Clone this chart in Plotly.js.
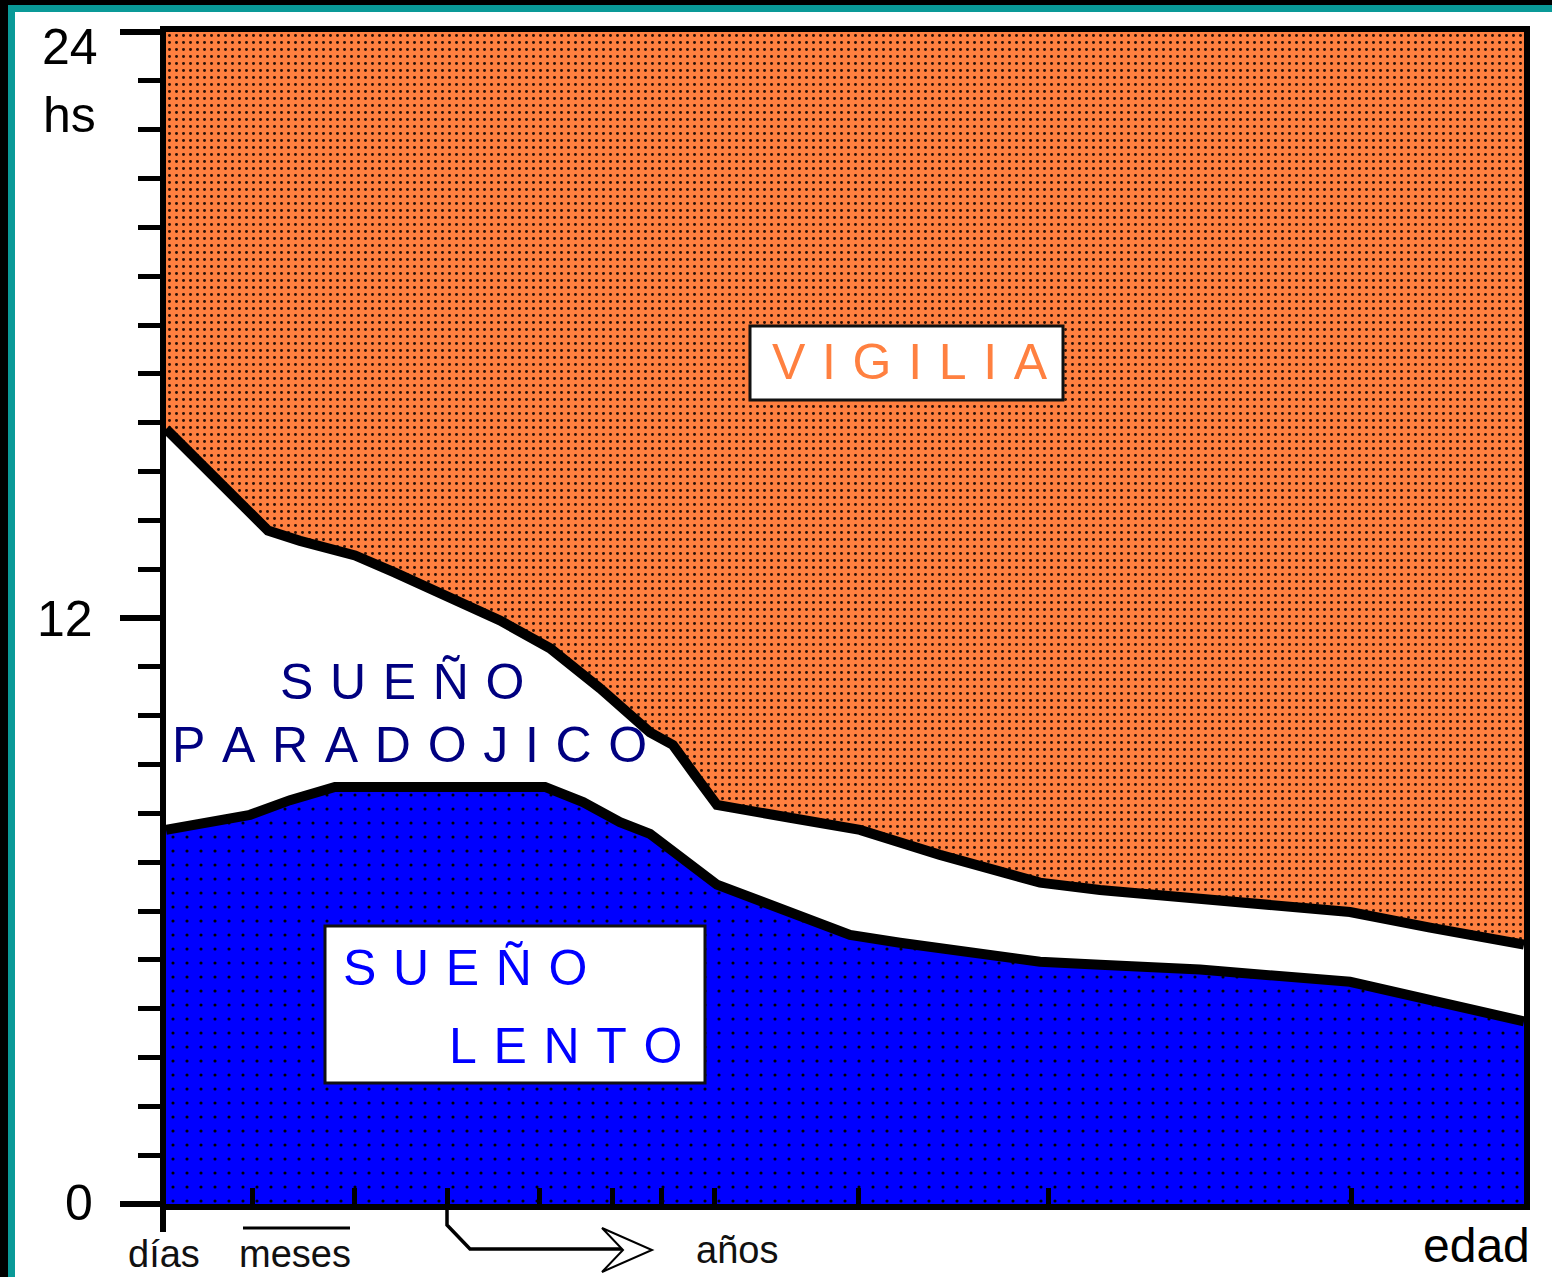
<!DOCTYPE html>
<html>
<head>
<meta charset="utf-8">
<script src="https://cdn.plot.ly/plotly-3.0.1.min.js"></script>
<style>
  html, body { margin: 0; padding: 0; background: #000; width: 1552px; height: 1277px; overflow: hidden; }
  #frame { position: absolute; left: 8px; top: 5px; width: 1544px; height: 1272px; background: #0a9a98; }
  #plot { position: absolute; left: 15px; top: 12px; width: 1537px; height: 1265px; background: #fff; }
</style>
</head>
<body>
<div id="frame"></div>
<div id="plot"></div>
<script>
// ---- data (age on an abstract, non-linear age scale 0..100; hours 0..24) ----
const ageLento   = [0, 6.19, 9.13, 12.44, 27.91, 30.71, 33.43, 35.64, 40.57, 45.21, 50.37, 54.05, 64.36, 68.78, 76.14, 87.19, 93.08, 100];
const hoursLento = [7.66, 7.97, 8.27, 8.54, 8.54, 8.23, 7.82, 7.58, 6.54, 6.07, 5.51, 5.35, 4.96, 4.90, 4.80, 4.55, 4.19, 3.74];

const ageWake    = [0, 7.51, 9.87, 13.92, 16.86, 20.18, 24.59, 28.28, 31.96, 35.64, 37.33, 38.95, 40.57, 45.95, 51.10, 56.99, 64.36, 68.78, 76.14, 87.19, 93.08, 100];
const hoursWake  = [15.87, 13.79, 13.58, 13.28, 12.93, 12.52, 11.95, 11.38, 10.56, 9.66, 9.40, 8.78, 8.17, 7.91, 7.66, 7.15, 6.58, 6.43, 6.27, 5.98, 5.66, 5.31];

const ageTop     = [0, 100];
const hoursTop   = [24, 24];

const ageTicks   = [6.4, 13.9, 20.7, 27.5, 32.9, 36.5, 40.4, 51, 65, 87.3];
const hourTicks  = [0, 12, 24];
const hourLabels = ['0', '12', '24'];
const unitLabel  = 'hs';
const ageLabels  = ['días', 'meses', 'años'];
const axisName   = 'edad';
const regionWake = 'VIGILIA';
const regionPar  = ['SUEÑO', 'PARADOJICO'];
const regionSlow = ['SUEÑO', 'LENTO'];

// ---- pixel -> paper helpers (plot area: x 166..1524, y 32..1204 in page px) ----
const L = 166, R = 1524, T = 32, B = 1204;
const PX = x => (x - L) / (R - L);
const PY = y => (B - y) / (B - T);
const spaced = s => s.split('').join('\u2004');

const orange = '#FF8040';
const navy = '#000080';
const blue = '#0000FF';
const FONT = 'Liberation Sans, Arial, sans-serif';

const traces = [
  {
    x: ageLento, y: hoursLento, type: 'scatter', mode: 'lines',
    line: {color: '#000', width: 10},
    fill: 'tozeroy', fillcolor: blue,
    fillpattern: {shape: '.', bgcolor: blue, fgcolor: '#000', size: 14, solidity: 0.04},
    hoverinfo: 'skip'
  },
  {
    x: ageWake, y: hoursWake, type: 'scatter', mode: 'lines',
    line: {color: '#000', width: 10},
    hoverinfo: 'skip'
  },
  {
    x: ageTop, y: hoursTop, type: 'scatter', mode: 'lines',
    line: {color: 'rgba(0,0,0,0)', width: 0},
    fill: 'tonexty', fillcolor: orange,
    fillpattern: {shape: '.', bgcolor: orange, fgcolor: '#2a1006', size: 7, solidity: 0.14},
    hoverinfo: 'skip'
  }
];

function ann(text, x, y, size, color) {
  return {text: text, xref: 'paper', yref: 'paper', x: PX(x), y: PY(y),
          xanchor: 'center', yanchor: 'middle', showarrow: false,
          font: {family: FONT, size: size, color: color}};
}

const annotations = [
  ann(hourLabels[2], 70, 47, 50, '#000'),
  ann(unitLabel, 69, 115, 50, '#000'),
  ann(hourLabels[1], 65, 619, 50, '#000'),
  ann(hourLabels[0], 79, 1203, 50, '#000'),
  ann(ageLabels[0], 164, 1254, 38, '#111'),
  ann(ageLabels[1], 295, 1254, 38, '#111'),
  ann(ageLabels[2], 737, 1250, 38, '#111'),
  ann(axisName, 1476, 1245, 48, '#000'),
  ann(spaced(regionWake), 910, 362, 50, orange),
  ann(spaced(regionPar[0]), 402, 682, 50, navy),
  ann(spaced(regionPar[1]), 409, 745, 50, navy),
  ann(spaced(regionSlow[0]), 465, 968, 50, blue),
  ann(spaced(regionSlow[1]), 565, 1046, 50, blue)
];

function path(pts, close) {
  return pts.map((p, i) => (i ? 'L' : 'M') + PX(p[0]) + ',' + PY(p[1])).join(' ') + (close ? ' Z' : '');
}

const shapes = [
  {type: 'rect', xref: 'paper', yref: 'paper', x0: PX(750), x1: PX(1063), y0: PY(400), y1: PY(326),
   fillcolor: '#fff', line: {color: '#111', width: 3}},
  {type: 'rect', xref: 'paper', yref: 'paper', x0: PX(325), x1: PX(705), y0: PY(1083), y1: PY(926),
   fillcolor: '#fff', line: {color: '#111', width: 3}},
  {type: 'line', xref: 'paper', yref: 'paper', x0: PX(243), x1: PX(350), y0: PY(1228), y1: PY(1228),
   line: {color: '#000', width: 3}},
  {type: 'line', xref: 'paper', yref: 'paper', x0: PX(163), x1: PX(163), y0: PY(1204), y1: PY(1232),
   line: {color: '#000', width: 6}},
  {type: 'path', xref: 'paper', yref: 'paper',
   path: path([[447, 1204], [447, 1225], [470, 1249], [625, 1249]], false),
   line: {color: '#000', width: 3.5}},
  {type: 'path', xref: 'paper', yref: 'paper',
   path: path([[602, 1228], [652, 1250], [602, 1272], [623, 1250]], true),
   fillcolor: '#fff', line: {color: '#000', width: 2}}
];

const layout = {
  width: 1537, height: 1265,
  margin: {l: L - 15, r: 1552 - R, t: T - 12, b: 1277 - B, pad: 0},
  paper_bgcolor: '#fff', plot_bgcolor: '#fff',
  showlegend: false,
  xaxis: {
    range: [0, 100], showgrid: false, zeroline: false,
    showline: true, mirror: true, linecolor: '#000', linewidth: 6,
    ticks: 'inside', tickvals: ageTicks, ticklen: 16, tickwidth: 5, tickcolor: '#000',
    showticklabels: false, fixedrange: true
  },
  yaxis: {
    range: [0, 24], showgrid: false, zeroline: false,
    showline: true, mirror: true, linecolor: '#000', linewidth: 6,
    ticks: 'outside', tickvals: hourTicks, ticktext: hourLabels, ticklen: 40, tickwidth: 6, tickcolor: '#000',
    showticklabels: false, fixedrange: true,
    minor: {ticks: 'outside', dtick: 1, ticklen: 22, tickwidth: 5, tickcolor: '#000', showgrid: false}
  },
  shapes: shapes,
  annotations: annotations
};

Plotly.newPlot('plot', traces, layout, {staticPlot: true, displayModeBar: false});
</script>
</body>
</html>
